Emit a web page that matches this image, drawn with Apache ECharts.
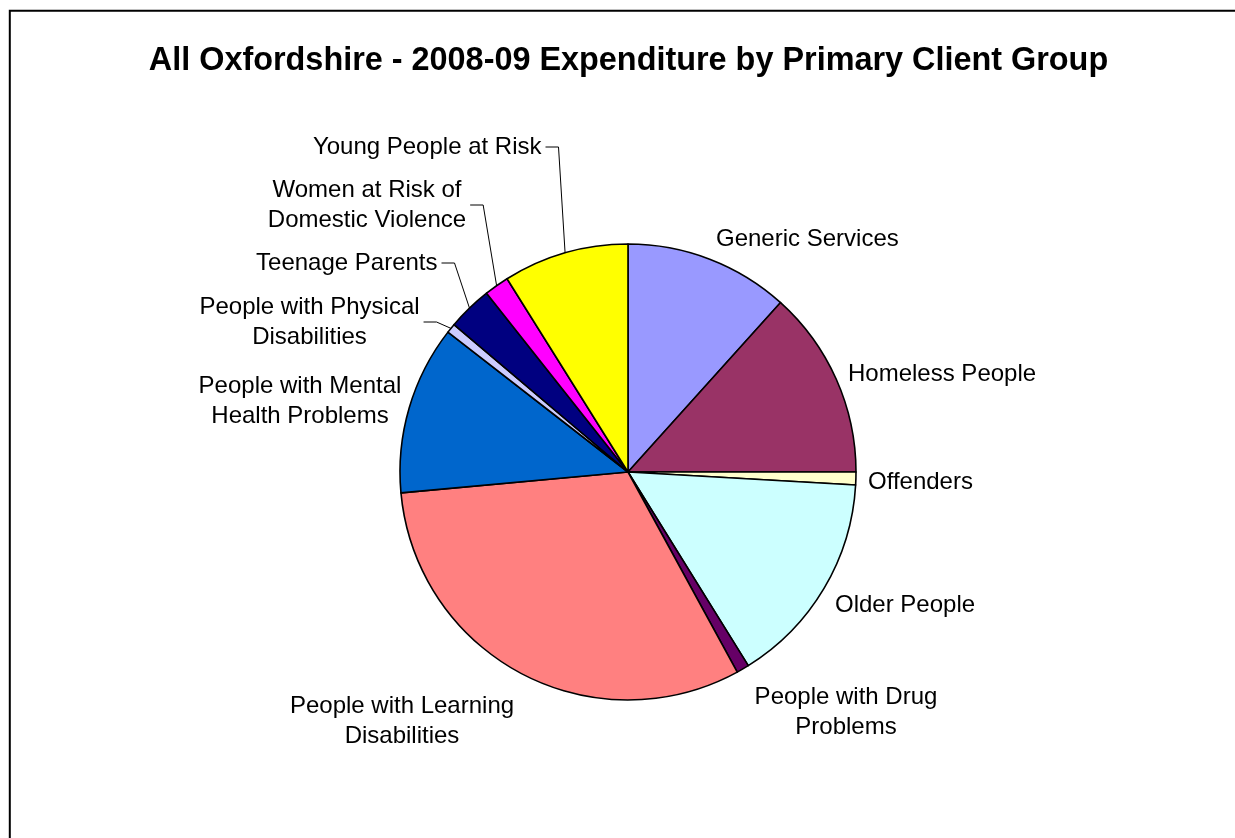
<!DOCTYPE html>
<html>
<head>
<meta charset="utf-8">
<title>All Oxfordshire - 2008-09 Expenditure by Primary Client Group</title>
<script src="https://cdn.jsdelivr.net/npm/echarts@6/dist/echarts.min.js"></script>
<style>
  html, body { margin: 0; padding: 0; background: #fff; }
  #chart { width: 1235px; height: 838px; }
</style>
</head>
<body>
<div id="chart"></div>
<script>
// Client groups, clockwise from 12 o'clock
const categories = [
  'Generic Services',
  'Homeless People',
  'Offenders',
  'Older People',
  'People with Drug Problems',
  'People with Learning Disabilities',
  'People with Mental Health Problems',
  'People with Physical Disabilities',
  'Teenage Parents',
  'Women at Risk of Domestic Violence',
  'Young People at Risk'
];

// Share of 2008-09 expenditure (%)
const shares = [11.67, 13.33, 0.91, 15.25, 0.89, 31.5, 11.97, 0.67, 3.17, 1.75, 8.9];

// Text shown beside each slice (wrapped as in the printed chart)
const labelTexts = [
  'Generic Services',
  'Homeless People',
  'Offenders',
  'Older People',
  'People with Drug\nProblems',
  'People with Learning\nDisabilities',
  'People with Mental\nHealth Problems',
  'People with Physical\nDisabilities',
  'Teenage Parents',
  'Women at Risk of\nDomestic Violence',
  'Young People at Risk'
];

const sliceColors = [
  '#9999FF', '#993366', '#FFFFCC', '#CCFFFF', '#660066', '#FF8080',
  '#0066CC', '#CCCCFF', '#000080', '#FF00FF', '#FFFF00'
];

// Label anchor (x, y, align) and whether a leader line is drawn
const labelPlacement = [
  { x: 716,   y: 239.5, align: 'left',   leader: false },
  { x: 848,   y: 374,   align: 'left',   leader: false },
  { x: 868,   y: 482.5, align: 'left',   leader: false },
  { x: 835,   y: 605,   align: 'left',   leader: false },
  { x: 846,   y: 712,   align: 'center', leader: false },
  { x: 402,   y: 721,   align: 'center', leader: false },
  { x: 300,   y: 401,   align: 'center', leader: false },
  { x: 309.5, y: 322,   align: 'center', leader: true  },
  { x: 437.5, y: 263,   align: 'right',  leader: true  },
  { x: 367,   y: 205,   align: 'center', leader: true  },
  { x: 541.5, y: 147,   align: 'right',  leader: true  }
];

const pieCenter = [628, 472];
const pieRadius = 228;

const chart = echarts.init(document.getElementById('chart'), null, { renderer: 'canvas' });

const seriesData = categories.map((name, i) => ({
  name: name,
  value: shares[i],
  itemStyle: { color: sliceColors[i] },
  labelLine: { show: labelPlacement[i].leader }
}));

chart.setOption({
  animation: false,
  backgroundColor: '#fff',
  title: {
    text: 'All Oxfordshire - 2008-09 Expenditure by Primary Client Group',
    left: 628.5,
    top: 45,
    padding: 0,
    textAlign: 'center',
    textStyle: {
      fontFamily: '"Liberation Sans", Arial, sans-serif',
      fontWeight: 'bold',
      fontSize: 32.4,
      color: '#000'
    }
  },
  graphic: [{
    type: 'rect',
    shape: { x: 9.8, y: 10.8, width: 1400, height: 1000 },
    style: { fill: 'none', stroke: '#000', lineWidth: 2 },
    silent: true
  }],
  series: [{
    type: 'pie',
    center: pieCenter,
    radius: pieRadius,
    startAngle: 90,
    clockwise: true,
    avoidLabelOverlap: false,
    itemStyle: { borderColor: '#000', borderWidth: 1.6 },
    emphasis: { disabled: true },
    label: {
      show: true,
      position: 'outside',
      color: '#000',
      fontFamily: '"Liberation Sans", Arial, sans-serif',
      fontSize: 24,
      lineHeight: 30,
      formatter: p => labelTexts[p.dataIndex]
    },
    labelLine: {
      length: 10,
      length2: 10,
      lineStyle: { color: '#000', width: 1 }
    },
    labelLayout: function (params) {
      const i = params.dataIndex;
      const pl = labelPlacement[i];
      const out = { x: pl.x, y: pl.y, align: pl.align, verticalAlign: 'middle' };
      if (pl.leader) {
        const w = params.labelRect.width;
        const right = pl.align === 'right' ? pl.x : (pl.align === 'center' ? pl.x + w / 2 : pl.x + w);
        const start = [right + 4, pl.y];
        const elbow = [right + 17, pl.y];
        const arc = params.labelLinePoints && params.labelLinePoints[0];
        if (arc) {
          out.labelLinePoints = [start, elbow, arc];
        }
      }
      return out;
    },
    data: seriesData
  }]
});
</script>
</body>
</html>
